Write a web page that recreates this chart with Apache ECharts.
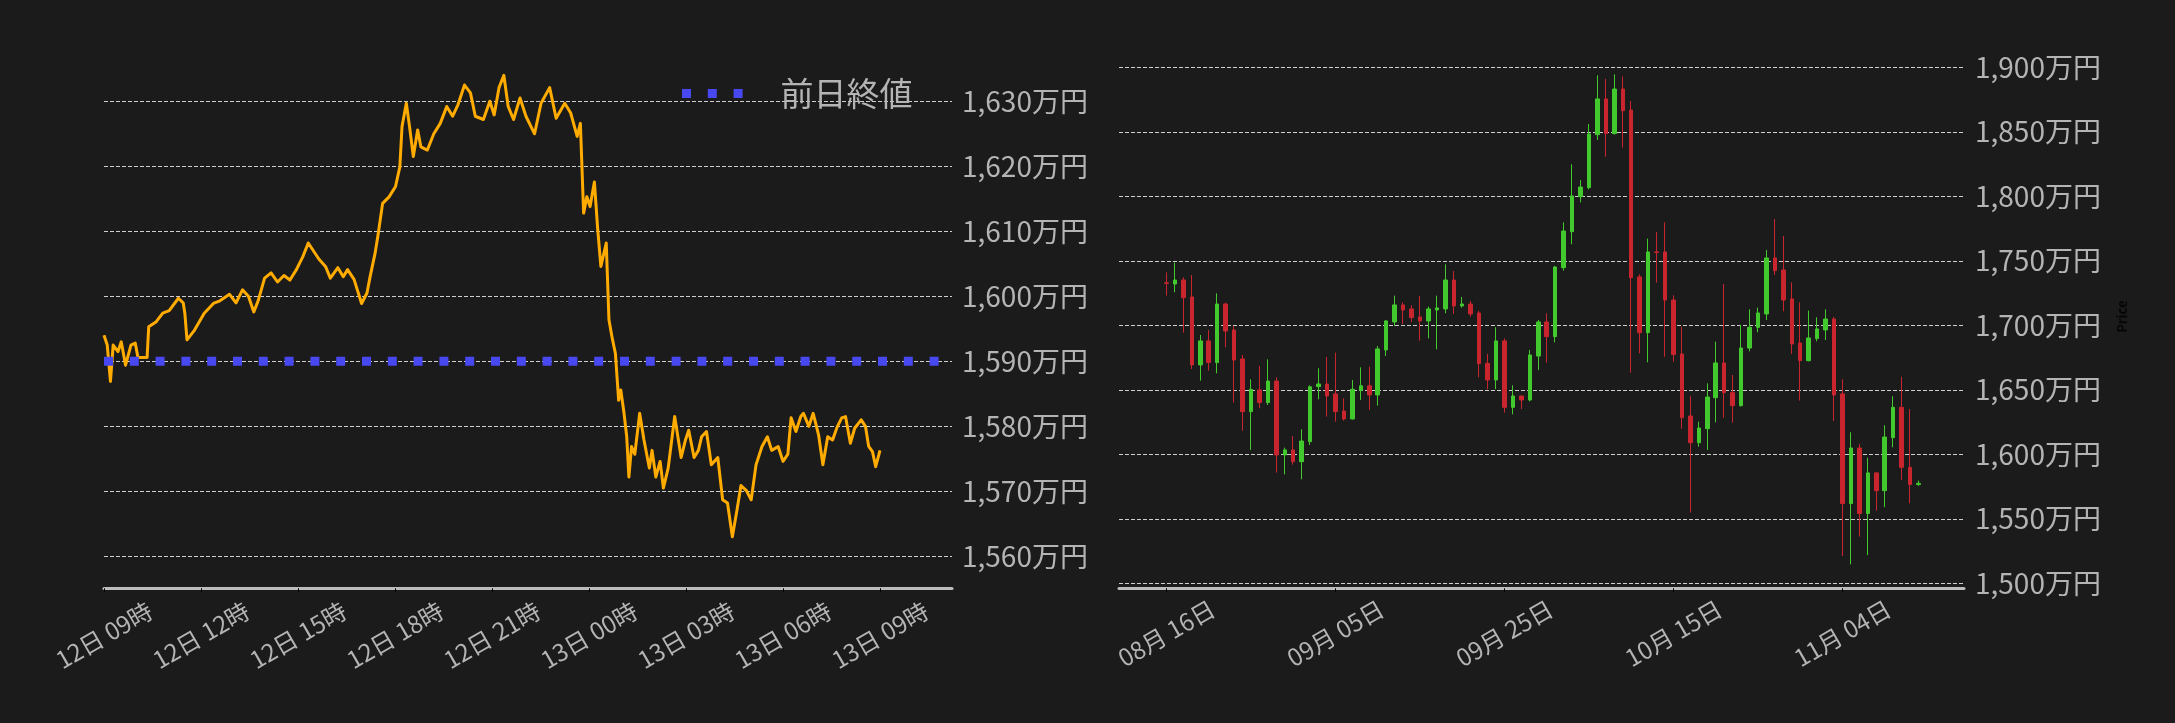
<!DOCTYPE html>
<html><head><meta charset="utf-8">
<script src="https://cdn.jsdelivr.net/npm/echarts@6/dist/echarts.min.js"></script>
<style>html,body{margin:0;padding:0;background:#1b1b1b;}#c{width:2175px;height:723px;}</style>
</head><body><div id="c"></div>
<script>
// ---------- Left chart: intraday price (minutes since 12日 09:00) ----------
const lineMinutes = [0,6,12,17,26,32,40,50,58,63,80,83,97,109,121,138,147,150,154,168,186,203,215,233,245,257,268,278,286,298,310,322,334,345,357,369,379,387,399,411,420,434,444,452,464,478,488,494,503,509,517,529,541,549,553,561,567,574,582,588,600,612,624,636,647,657,669,680,689,704,716,724,733,742,750,760,772,783,799,811,827,839,855,866,878,884,890,896,902,910,916,922,932,937,943,949,955,959,965,970,974,979,985,994,1002,1012,1017,1024,1032,1038,1047,1059,1071,1079,1085,1095,1103,1109,1118,1127,1139,1148,1157,1166,1174,1182,1192,1201,1210,1221,1231,1239,1251,1260,1269,1275,1284,1293,1298,1308,1316,1326,1334,1343,1352,1361,1369,1376,1385,1393,1405,1413,1419,1426,1432,1440];
const lineValues = [1594.0,1592.5,1586.9,1592.5,1591.5,1593.0,1589.4,1592.5,1592.8,1590.6,1590.6,1595.3,1596.1,1597.4,1597.8,1599.7,1599.0,1597.4,1593.3,1594.8,1597.4,1598.9,1599.3,1600.3,1599.0,1601.0,1600.0,1597.6,1599.3,1602.8,1603.6,1602.2,1603.2,1602.5,1604.1,1606.1,1608.2,1607.2,1605.7,1604.6,1602.8,1604.4,1603.0,1604.1,1602.6,1598.9,1600.5,1603.1,1606.6,1609.7,1614.3,1615.3,1616.9,1619.9,1626.1,1629.7,1626.1,1621.5,1625.6,1623.0,1622.5,1625.0,1626.6,1629.2,1627.7,1629.5,1632.5,1631.3,1627.7,1627.2,1630.0,1627.9,1632.1,1634.0,1629.2,1627.2,1630.5,1627.7,1625.0,1629.7,1632.1,1627.4,1629.7,1628.2,1624.6,1626.6,1612.8,1615.3,1613.8,1617.6,1610.5,1604.6,1608.2,1596.4,1593.6,1591.2,1584.0,1585.6,1582.0,1578.4,1572.2,1576.9,1575.7,1582.0,1577.9,1573.6,1576.3,1572.2,1574.6,1570.5,1573.6,1581.5,1575.2,1577.9,1579.4,1575.2,1576.3,1578.4,1579.2,1574.1,1575.2,1568.7,1568.2,1563.0,1566.8,1570.9,1570.1,1568.7,1574.1,1576.9,1578.4,1576.3,1576.9,1574.6,1575.7,1581.3,1579.2,1581.5,1582.0,1580.0,1582.0,1578.7,1574.1,1578.4,1577.9,1580.0,1581.3,1581.5,1577.4,1579.7,1581.0,1580.0,1576.9,1576.1,1573.8,1576.3];
const prevClose = 1590;
const prevCloseName = '前日終値';
const leftXTickMinutes = [0,180,360,540,720,900,1080,1260,1440];
const leftXTickLabels = ['12日 09時','12日 12時','12日 15時','12日 18時','12日 21時','13日 00時','13日 03時','13日 06時','13日 09時'];
const leftYTicks = [1560,1570,1580,1590,1600,1610,1620,1630];

// ---------- Right chart: daily candles (万円), day 0 = 2025-08-16 ----------
const candleOpen  = [1733.0,1732.0,1735.1,1722.0,1669.3,1687.9,1671.1,1716.5,1696.4,1673.9,1633.1,1649.9,1640.1,1656.8,1599.5,1603.4,1594.3,1609.8,1652.5,1654.5,1646.8,1633.6,1627.4,1649.4,1653.1,1646.0,1680.9,1702.6,1715.8,1712.7,1706.5,1703.4,1711.9,1712.7,1735.1,1715.0,1716.5,1709.6,1670.5,1657.6,1687.9,1636.4,1645.2,1642.1,1676.2,1702.6,1691.2,1744.7,1772.6,1799.7,1806.7,1847.8,1875.5,1848.6,1883.2,1866.9,1737.5,1694.3,1756.9,1756.9,1719.6,1677.8,1629.7,1609.0,1619.9,1643.9,1670.8,1647.8,1637.7,1682.4,1698.4,1708.8,1752.2,1742.9,1720.4,1686.3,1672.6,1689.7,1696.4,1704.9,1646.8,1561.8,1604.9,1554.1,1585.6,1571.8,1612.9,1636.4,1589.9,1576.6];
const candleClose = [1732.5,1735.1,1721.4,1669.3,1687.9,1671.1,1716.5,1695.6,1673.1,1633.1,1650.4,1640.1,1656.8,1599.5,1603.4,1594.3,1610.3,1652.3,1654.5,1645.2,1633.1,1627.4,1650.4,1653.1,1646.0,1681.7,1703.4,1715.8,1711.9,1706.0,1703.4,1712.7,1713.5,1735.1,1715.0,1716.5,1708.8,1670.3,1657.6,1687.9,1636.4,1645.2,1642.1,1677.0,1702.6,1691.2,1745.2,1773.1,1800.3,1807.2,1848.3,1875.5,1848.6,1883.2,1866.4,1736.9,1694.3,1756.9,1756.5,1719.6,1677.3,1628.4,1609.0,1620.4,1644.4,1670.8,1647.8,1637.7,1682.4,1698.4,1709.6,1752.2,1742.4,1719.6,1685.5,1672.6,1690.2,1697.2,1704.9,1646.0,1561.8,1604.9,1554.1,1585.6,1571.8,1613.4,1636.4,1589.9,1576.6,1577.5];
const candleLow   = [1723.0,1725.6,1694.3,1666.1,1657.1,1664.9,1662.8,1682.9,1640.1,1618.3,1603.4,1635.7,1638.2,1585.8,1584.5,1591.9,1580.6,1607.2,1642.6,1629.2,1625.3,1626.1,1627.0,1642.1,1634.4,1637.7,1676.2,1699.5,1701.0,1702.6,1688.1,1689.9,1681.4,1709.3,1708.8,1713.7,1706.7,1659.7,1650.4,1650.4,1632.3,1631.0,1635.1,1641.1,1665.4,1671.1,1686.8,1742.4,1762.8,1795.3,1805.4,1843.7,1830.7,1848.0,1837.7,1663.3,1678.3,1671.3,1733.1,1675.7,1671.8,1619.9,1554.8,1605.9,1603.4,1624.8,1628.4,1624.5,1637.0,1679.8,1694.6,1704.1,1739.0,1710.9,1677.8,1641.6,1672.0,1687.6,1688.6,1625.8,1521.2,1514.7,1536.2,1521.8,1556.3,1559.0,1605.4,1580.1,1562.0,1575.5];
const candleHigh  = [1741.1,1748.6,1737.2,1739.0,1692.5,1696.4,1724.8,1717.6,1699.5,1677.0,1658.1,1668.5,1673.6,1659.7,1605.2,1614.2,1619.4,1653.5,1666.7,1675.5,1678.8,1643.4,1657.6,1667.4,1668.0,1684.0,1704.0,1723.0,1717.8,1715.5,1722.7,1714.5,1723.0,1747.3,1742.1,1722.0,1718.9,1711.3,1677.8,1698.5,1689.9,1653.5,1645.5,1680.9,1704.2,1709.3,1746.0,1779.8,1824.8,1812.7,1856.1,1893.8,1891.0,1894.6,1893.0,1873.9,1739.5,1767.2,1772.4,1779.8,1723.3,1699.0,1645.0,1625.3,1655.0,1687.3,1732.0,1661.5,1700.3,1712.4,1713.7,1758.4,1782.4,1769.3,1733.3,1717.8,1711.4,1706.2,1712.4,1706.5,1658.1,1617.1,1608.1,1597.3,1586.0,1622.5,1645.0,1660.0,1635.1,1579.6];
const rightXTickDays   = [0, 20, 40, 60, 80];
const rightXTickLabels = ['08月 16日','09月 05日','09月 25日','10月 15日','11月 04日'];
const rightYTicks = [1500,1550,1600,1650,1700,1750,1800,1850,1900];

// ---------- build ----------
const candleData = candleOpen.map((o, i) => [i, o, candleClose[i], candleLow[i], candleHigh[i]]);
const lineData = lineMinutes.map((m, i) => [m, lineValues[i]]);

const FONT = '"Noto Sans CJK JP", "Noto Sans", sans-serif';
const TXT = '#b4b4b4';
const GRID_LINE = { show: true, lineStyle: { color: '#cfcfcf', width: 1, type: [4, 2] } };
const fmtYen = v => Number(v).toLocaleString('en-US') + '万円';

const LX_MAX = 1573.6;
const chart = echarts.init(document.getElementById('c'), null, { renderer: 'canvas' });
chart.setOption({
  backgroundColor: '#1b1b1b',
  animation: false,
  textStyle: { fontFamily: FONT },
  legend: {
    data: [prevCloseName],
    left: 682, top: 77, padding: 0,
    itemWidth: 60.6, itemHeight: 9,
    icon: 'path://M0,0h9v9h-9z M25.8,0h9v9h-9z M51.6,0h9v9h-9z',
    textStyle: { color: TXT, fontSize: 33, fontFamily: FONT, padding: [0, 0, 0, 33] },
    selectedMode: false
  },
  grid: [
    { left: 104, right: 1223, top: 50, bottom: 134.7, outerBoundsMode: 'none' },
    { left: 1119, right: 211, top: 45, bottom: 134.7, outerBoundsMode: 'none' }
  ],
  xAxis: [
    {
      type: 'value', gridIndex: 0, min: 0, max: LX_MAX,
      axisLine: { show: true, lineStyle: { color: '#bdbdbd', width: 3 } },
      axisTick: { show: true, customValues: leftXTickMinutes, length: 4, lineStyle: { color: '#000', width: 1 } },
      axisLabel: {
        customValues: leftXTickMinutes, rotate: 30, align: 'center', verticalAlign: 'middle', margin: 47,
        color: TXT, fontSize: 24, fontFamily: FONT,
        formatter: v => leftXTickLabels[leftXTickMinutes.indexOf(Math.round(v))] || ''
      },
      splitLine: { show: false }
    },
    {
      type: 'value', gridIndex: 1, min: -5.62, max: 94.38,
      axisLine: { show: true, lineStyle: { color: '#bdbdbd', width: 3 } },
      axisTick: { show: true, customValues: rightXTickDays, length: 4, lineStyle: { color: '#000', width: 1 } },
      axisLabel: {
        customValues: rightXTickDays, rotate: 30, align: 'center', verticalAlign: 'middle', margin: 45,
        color: TXT, fontSize: 24, fontFamily: FONT,
        formatter: v => rightXTickLabels[rightXTickDays.indexOf(Math.round(v))] || ''
      },
      splitLine: { show: false }
    }
  ],
  yAxis: [
    {
      type: 'value', gridIndex: 0, position: 'right',
      min: 1555.08, max: 1637.89, minInterval: 10, maxInterval: 10,
      axisLine: { show: false },
      axisTick: { show: false, customValues: leftYTicks },
      axisLabel: { customValues: leftYTicks, margin: 10, color: TXT, fontSize: 28, fontFamily: FONT, formatter: fmtYen },
      splitLine: GRID_LINE
    },
    {
      type: 'value', gridIndex: 1, position: 'right',
      min: 1496.12, max: 1917.3, minInterval: 50, maxInterval: 50,
      name: 'Price', nameLocation: 'middle', nameGap: 152, nameRotate: 90,
      nameTextStyle: { color: '#050505', fontSize: 13, fontWeight: 'bold', fontFamily: FONT },
      axisLine: { show: false },
      axisTick: { show: false, customValues: rightYTicks },
      axisLabel: { customValues: rightYTicks, margin: 11, color: TXT, fontSize: 28, fontFamily: FONT, formatter: fmtYen },
      splitLine: GRID_LINE
    }
  ],
  series: [
    {
      type: 'line', xAxisIndex: 0, yAxisIndex: 0,
      data: lineData, symbol: 'none', smooth: false,
      lineStyle: { color: '#ffab00', width: 3, join: 'round' },
      itemStyle: { color: '#ffab00' }, z: 2
    },
    {
      name: prevCloseName, type: 'line', xAxisIndex: 0, yAxisIndex: 0,
      data: [[0, prevClose], [LX_MAX, prevClose]], symbol: 'none',
      lineStyle: { color: '#4848f0', width: 9, type: [9, 16.8], cap: 'butt' },
      itemStyle: { color: '#4848f0' }, z: 3
    },
    {
      type: 'candlestick', xAxisIndex: 1, yAxisIndex: 1,
      data: candleData, barWidth: 4,
      itemStyle: { color: '#42c92d', color0: '#c9252e', borderColor: '#42c92d', borderColor0: '#c9252e', borderWidth: 1 }
    }
  ]
});
</script>
</body></html>
